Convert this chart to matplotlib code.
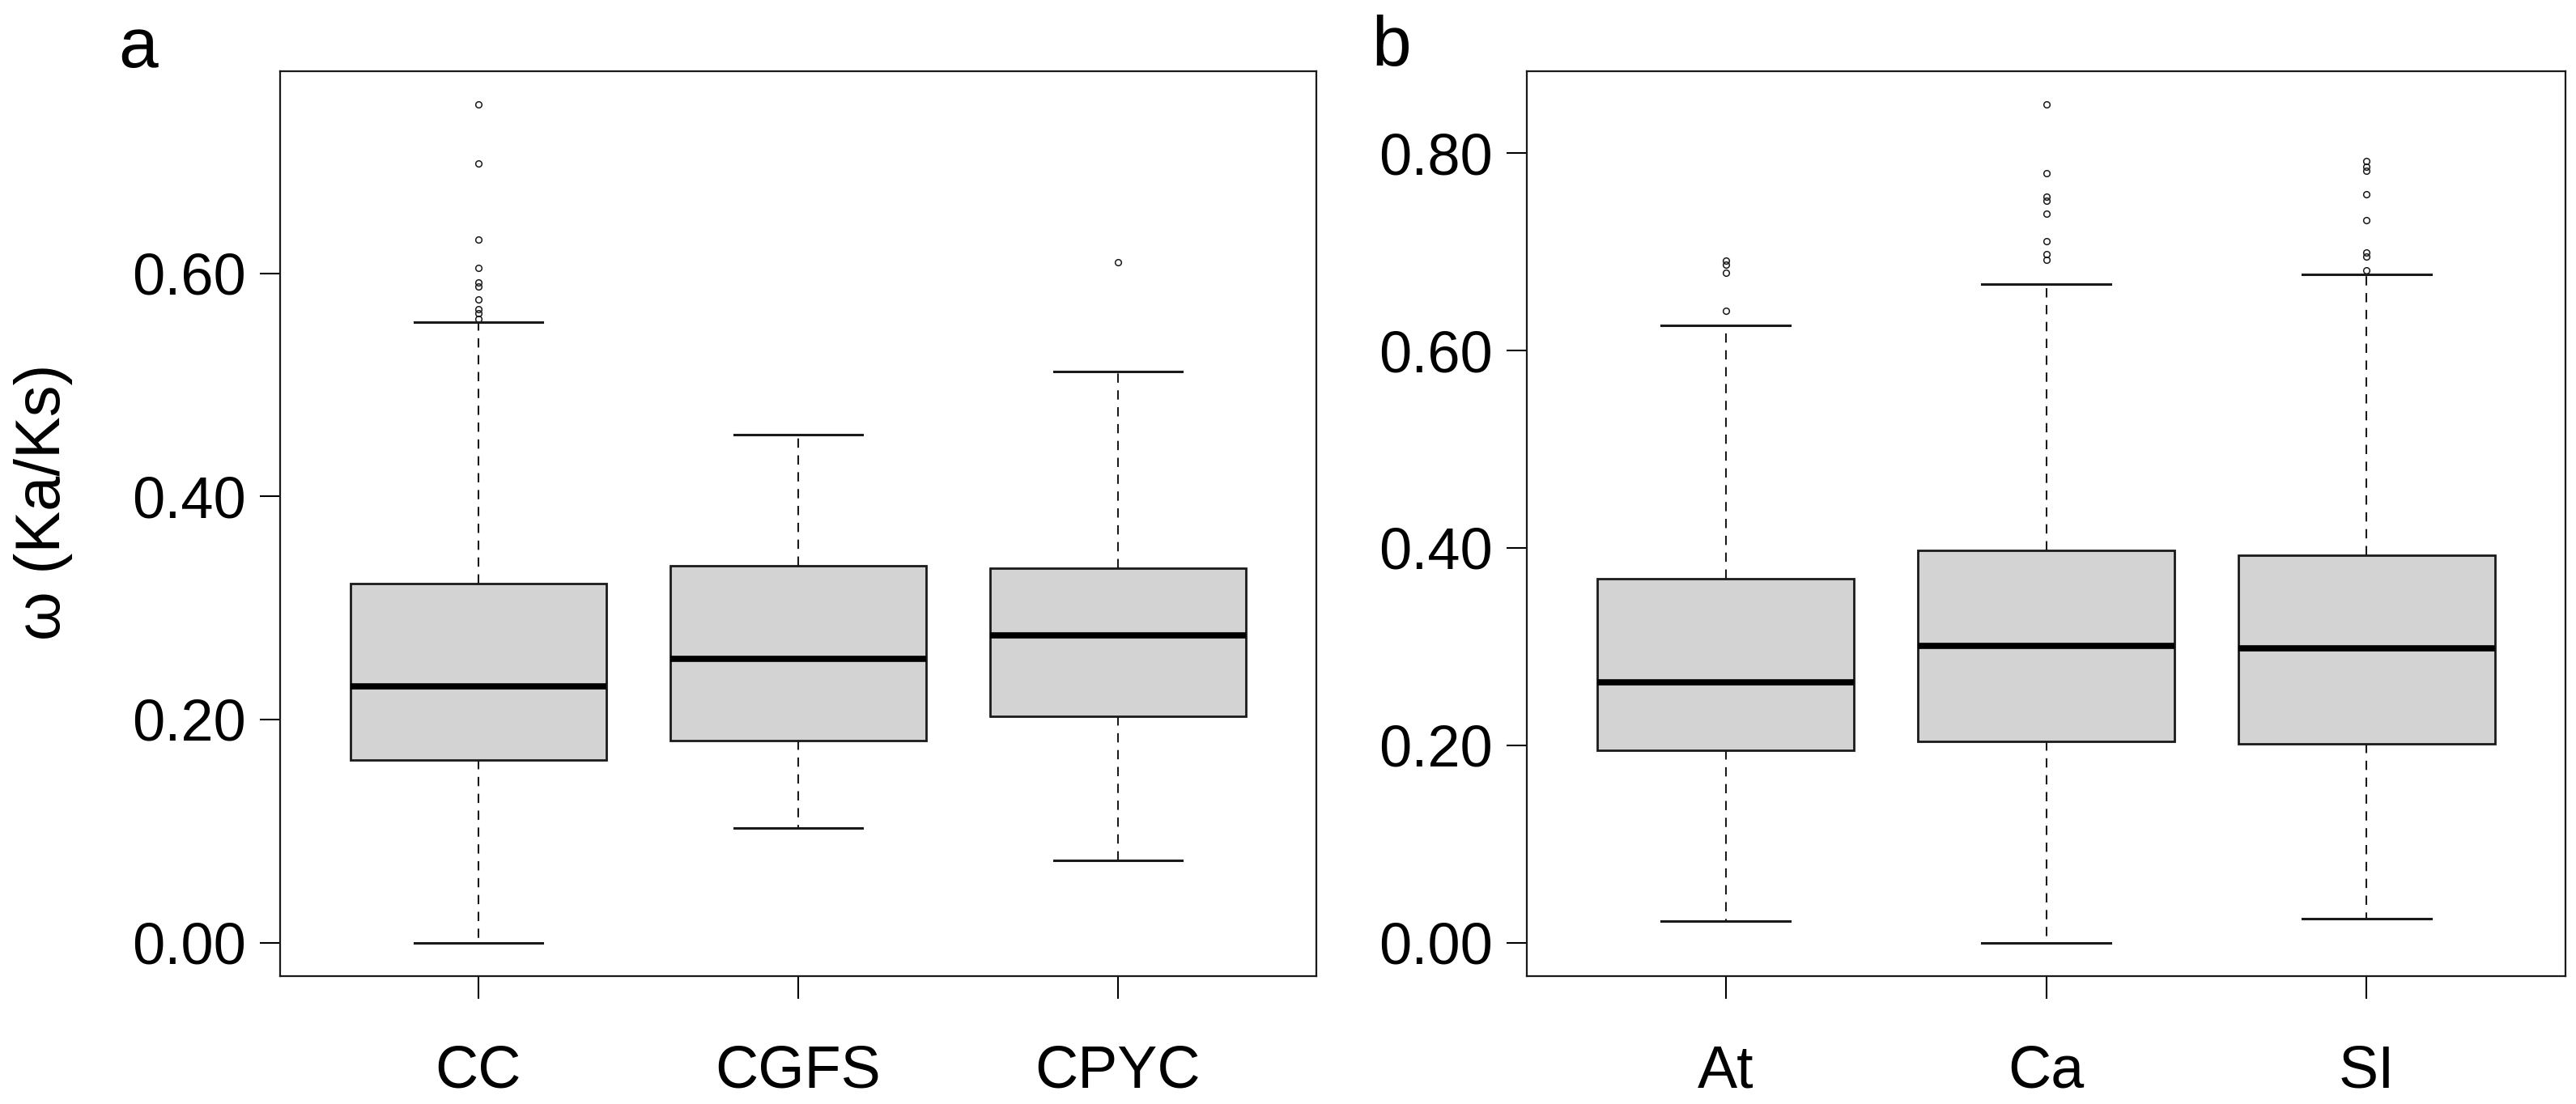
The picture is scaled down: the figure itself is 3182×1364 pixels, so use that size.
import matplotlib
matplotlib.use("Agg")
import matplotlib.pyplot as plt

plt.rcParams['font.family'] = ['Liberation Sans', 'DejaVu Sans']

# panel a: codon-usage groups
groups_a = ['CC', 'CGFS', 'CPYC']
q1_a = [0.164, 0.181, 0.203]
med_a = [0.230, 0.254, 0.2755]
q3_a = [0.3216, 0.338, 0.3355]
whislo_a = [0.000, 0.1025, 0.0735]
whishi_a = [0.556, 0.455, 0.512]
fliers_a = [
    [0.751, 0.698, 0.630, 0.605, 0.592, 0.588, 0.5765, 0.5675, 0.564, 0.559],
    [],
    [0.610],
]

# panel b: species
groups_b = ['At', 'Ca', 'SI']
q1_b = [0.1946, 0.2039, 0.2017]
med_b = [0.2635, 0.3007, 0.2985]
q3_b = [0.3684, 0.3974, 0.3929]
whislo_b = [0.0216, 0.000, 0.0246]
whishi_b = [0.6255, 0.667, 0.677]
fliers_b = [
    [0.691, 0.687, 0.679, 0.640],
    [0.849, 0.780, 0.756, 0.752, 0.739, 0.711, 0.698, 0.692],
    [0.792, 0.786, 0.782, 0.758, 0.732, 0.699, 0.695, 0.681],
]

yticks_a = [0.0, 0.2, 0.4, 0.6]
yticks_b = [0.0, 0.2, 0.4, 0.6, 0.8]


def make_stats(labels, q1, med, q3, lo, hi, fl):
    stats = []
    for i in range(len(labels)):
        stats.append({'label': labels[i], 'q1': q1[i], 'med': med[i], 'q3': q3[i],
                      'whislo': lo[i], 'whishi': hi[i], 'fliers': fl[i]})
    return stats


def draw_panel(ax, stats, yticks):
    ax.bxp(stats, widths=0.8, capwidths=0.4, patch_artist=True,
           boxprops=dict(facecolor='#d3d3d3', edgecolor='#1a1a1a', linewidth=2.0),
           medianprops=dict(color='black', linewidth=5.5, solid_capstyle='butt'),
           whiskerprops=dict(color='#1a1a1a', linewidth=1.5, linestyle=(0, (5.5, 4.5))),
           capprops=dict(color='#1a1a1a', linewidth=2.2),
           flierprops=dict(marker='o', markersize=5.5, markerfacecolor='none',
                           markeredgecolor='#1a1a1a', markeredgewidth=1.1))
    # R style axis ranges: 4% padding around data
    allvals = [v for s in stats for v in [s['whislo'], s['whishi']] + list(s['fliers'])]
    lo, hi = min(allvals), max(allvals)
    pad = 0.04 * (hi - lo)
    ax.set_ylim(lo - pad, hi + pad)
    n = len(stats)
    ax.set_xlim(0.5 - 0.04 * n, n + 0.5 + 0.04 * n)
    ax.set_yticks(yticks)
    ax.set_yticklabels(['%.2f' % t for t in yticks])
    ax.tick_params(axis='y', length=18, width=1.5, pad=12, labelsize=52)
    ax.tick_params(axis='x', length=20, width=1.5, pad=40, labelsize=53)
    for sp in ax.spines.values():
        sp.set_linewidth(1.6)
        sp.set_color('#1a1a1a')


fig = plt.figure(figsize=(31.82, 13.64), dpi=100)
ax_a = fig.add_axes([346 / 3182, 158 / 1364, 1280 / 3182, 1118 / 1364])
ax_b = fig.add_axes([1886 / 3182, 158 / 1364, 1283 / 3182, 1118 / 1364])

draw_panel(ax_a, make_stats(groups_a, q1_a, med_a, q3_a, whislo_a, whishi_a, fliers_a), yticks_a)
draw_panel(ax_b, make_stats(groups_b, q1_b, med_b, q3_b, whislo_b, whishi_b, fliers_b), yticks_b)

fig.text(54 / 3182, 0.545, 'ω (Ka/Ks)', rotation=90, ha='center', va='center', fontsize=56)
fig.text(146 / 3182, 1 - 83 / 1364, 'a', ha='left', va='baseline', fontsize=63)
fig.text(1694 / 3182, 1 - 81 / 1364, 'b', ha='left', va='baseline', fontsize=63)

fig.savefig('out.png', dpi=100)
